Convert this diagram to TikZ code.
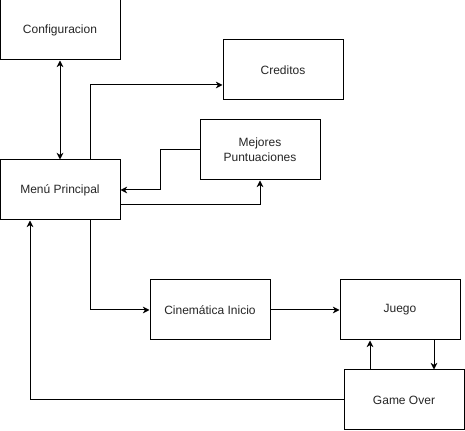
\documentclass[tikz,border=0pt]{standalone}
\usepackage{fontspec}
\setmainfont{Liberation Sans}
\usetikzlibrary{arrows.meta}
\begin{document}
\begin{tikzpicture}[x=0.75pt,y=-0.75pt,
  box/.style={draw=black,line width=0.75pt,minimum width=90pt,minimum height=45pt,inner sep=0pt,align=center,font=\fontsize{9pt}{11pt}\selectfont,text=black!85},
  link/.style={line width=0.75pt,-{Stealth[length=5pt,width=5pt,inset=1.5pt]}},
  dlink/.style={line width=0.75pt,{Stealth[length=5pt,width=5pt,inset=1.5pt]}-{Stealth[length=5pt,width=5pt,inset=1.5pt]}}]
\useasboundingbox (0,0) rectangle (465,431);
\fill[white] (0,0) rectangle (465,431);
\node[box] (conf) at (60,30) {Configuracion};
\node[box] (cred) at (283,70) {Creditos};
\node[box] (mej) at (260,150) {Mejores\\Puntuaciones};
\node[box] (menu) at (60,190) {Menú Principal};
\node[box] (cin) at (210,310) {Cinemática Inicio};
\node[box] (jue) at (400,310) {Juego};
\node[box] (go) at (404,400) {Game Over};
\coordinate (c1) at (90,85);
\coordinate (c2) at (160,150);
\coordinate (c3) at (160,190);
\coordinate (c4) at (260,205);
\coordinate (c5) at (90,310);
\coordinate (c6) at (30,400);
\draw[dlink] (conf.south) -- (menu.north);
\draw[link] (menu.north -| c1) -- (c1) -- (cred.west |- c1);
\draw[link] (mej.west) -- (c2) -- (c3) -- (menu.east |- c3);
\draw[link] (menu.east |- c4) -- (c4) -- (mej.south);
\draw[link] (menu.south -| c5) -- (c5) -- (cin.west);
\draw[link] (cin.east) -- (jue.west);
\draw[link] (go.north -| 370,0) -- (jue.south -| 370,0);
\draw[link] (jue.south -| 434,0) -- (go.north -| 434,0);
\draw[link] (go.west) -- (c6) -- (menu.south -| c6);
\end{tikzpicture}
\end{document}
